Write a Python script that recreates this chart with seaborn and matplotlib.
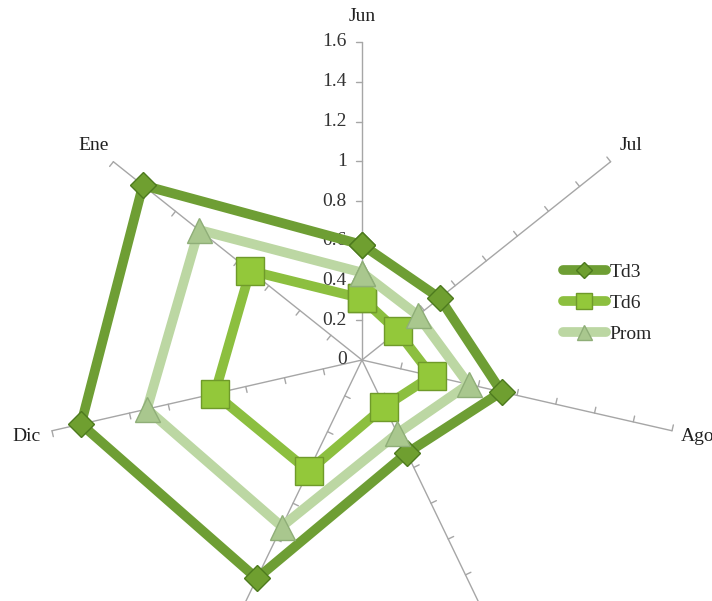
import numpy as np
import pandas as pd
import seaborn as sns
import matplotlib.pyplot as plt

# data
months = ["Jun", "Jul", "Ago", "Oct", "Nov", "Dic", "Ene"]
td3 = [0.58, 0.50, 0.72, 0.52, 1.22, 1.45, 1.41]
td6 = [0.31, 0.23, 0.36, 0.26, 0.62, 0.76, 0.72]
prom = [0.44, 0.36, 0.55, 0.41, 0.93, 1.11, 1.05]
r_ticks = [0, 0.2, 0.4, 0.6, 0.8, 1.0, 1.2, 1.4, 1.6]
r_tick_labels = ["0", "0.2", "0.4", "0.6", "0.8", "1", "1.2", "1.4", "1.6"]

# esthetics
sns.set_style("white")
plt.rcParams["font.family"] = ["Liberation Serif", "DejaVu Serif"]
font_size = 14
spoke_color = "#a6a6a6"
series_style = {
    "Td3": dict(color="#6e9e34", marker="D", ms=13, mfc="#6f9f30", mec="#4d7a1e"),
    "Td6": dict(color="#8cbf3f", marker="s", ms=20, mfc="#93c83a", mec="#6f9a2a"),
    "Prom": dict(color="#bcd7a3", marker="^", ms=18, mfc="#a9c78e", mec="#8fae78"),
}

n = len(months)
theta = [2 * np.pi * i / n for i in range(n)]
r_max = r_ticks[-1]

fig = plt.figure(figsize=(7.12, 6.01), dpi=100)
# center of the web at (362, 360) px, radius 318 px
ax = fig.add_axes([(362 - 318) / 712, (601 - 360 - 318) / 601, 636 / 712, 636 / 601],
                  projection="polar")
ax.set_theta_zero_location("N")
ax.set_theta_direction(-1)
ax.set_ylim(0, r_max)
ax.grid(False)
ax.spines["polar"].set_visible(False)
ax.set_xticks([])
ax.set_yticks([])
ax.patch.set_alpha(0)

# spokes with one-sided tick marks
tick_len = 6 / 198.75
for t in theta:
    ax.plot([t, t], [0, r_max], color=spoke_color, lw=1, zorder=1, clip_on=False)
    for r in r_ticks[1:]:
        t2 = t - np.arctan(tick_len / r)
        ax.plot([t, t2], [r, np.hypot(r, tick_len)], color=spoke_color, lw=1,
                zorder=1, clip_on=False)

# value labels on the Jun spoke
for r, lab in zip(r_ticks, r_tick_labels):
    ax.annotate(lab, xy=(0, r), xytext=(-11, 0), textcoords="offset points",
                ha="right", va="center", fontsize=font_size, color="#333333",
                annotation_clip=False)

# month labels (the two lowest ones fall below the cropped picture)
for t, m in zip(theta, months):
    if np.cos(t) < -0.5:
        continue
    ax.text(t, 1.73, m, ha="center", va="center", fontsize=font_size,
            color="#202020", clip_on=False)

# series
df = pd.DataFrame({"month": months, "theta": theta, "Td3": td3, "Td6": td6, "Prom": prom})
closed = pd.concat([df, df.iloc[[0]].assign(theta=2 * np.pi)], ignore_index=True)
for z, name in enumerate(["Td3", "Td6", "Prom"]):
    st = series_style[name]
    sns.lineplot(data=closed, x="theta", y=name, ax=ax, sort=False, estimator=None,
                 color=st["color"], lw=7, marker=st["marker"], ms=st["ms"],
                 markerfacecolor=st["mfc"], markeredgecolor=st["mec"],
                 markeredgewidth=1, label=name, zorder=3 + z, clip_on=False)

ax.set_xlabel("")
ax.set_ylabel("")
handles, labels = ax.get_legend_handles_labels()
ax.get_legend().remove()
fig.legend(handles, labels, loc="center left", bbox_to_anchor=(563 / 712, 1 - 303 / 601),
           frameon=False, fontsize=font_size, handlelength=2.2, handletextpad=0.2,
           labelspacing=0.7, markerscale=0.6, borderpad=0, borderaxespad=0)

fig.savefig("out.png", dpi=100, facecolor="white")
